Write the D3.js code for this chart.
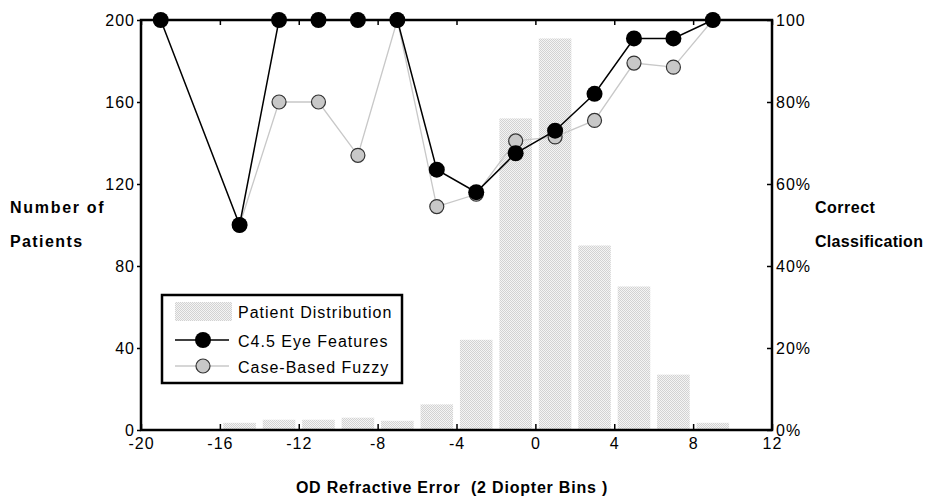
<!DOCTYPE html>
<html>
<head>
<meta charset="utf-8">
<script src="https://cdn.jsdelivr.net/npm/d3@7"></script>
<style>
  body { margin: 0; background: #fff; }
  svg text { font-family: "Liberation Sans", Arial, sans-serif; }
</style>
</head>
<body>
<svg id="chart" width="926" height="498"></svg>
<script>
// bins (centre of each 2 diopter bin) and patient counts
var binCentres = [-15, -13, -11, -9, -7, -5, -3, -1, 1, 3, 5, 7, 9];
var patientCounts = [3.5, 5, 5, 6, 4.5, 12.5, 44, 152, 191, 90, 70, 27, 3.5];

// C4.5 eye features, % correct
var c45X = [-19, -15, -13, -11, -9, -7, -5, -3, -1, 1, 3, 5, 7, 9];
var c45Pct = [100, 50, 100, 100, 100, 100, 63.5, 58, 67.5, 73, 82, 95.5, 95.5, 100];

// case-based fuzzy, % correct
var fuzzyX = [-15, -13, -11, -9, -7, -5, -3, -1, 1, 3, 5, 7, 9];
var fuzzyPct = [50, 80, 80, 67, 100, 54.5, 57.5, 70.5, 71.5, 75.5, 89.5, 88.5, 100];

var xTicks = [-20, -16, -12, -8, -4, 0, 4, 8, 12];
var leftTicks = [0, 40, 80, 120, 160, 200];
var rightTicks = [0, 20, 40, 60, 80, 100];

var svg = d3.select("#chart");
var L = 141, R = 772, T = 20, B = 430;

var x = d3.scaleLinear().domain([-20, 12]).range([L, R]);
var yN = d3.scaleLinear().domain([0, 200]).range([B, T]);
var yP = d3.scaleLinear().domain([0, 100]).range([B, T]);

// checkered fill for the bars
var defs = svg.append("defs");
var pat = defs.append("pattern")
    .attr("id", "dots")
    .attr("width", 2).attr("height", 2)
    .attr("patternUnits", "userSpaceOnUse");
pat.append("rect").attr("width", 2).attr("height", 2).attr("fill", "#f4f4f4");
pat.append("rect").attr("width", 1).attr("height", 1).attr("fill", "#d2d2d2");
pat.append("rect").attr("x", 1).attr("y", 1).attr("width", 1).attr("height", 1).attr("fill", "#d2d2d2");

// bars
var barW = x(1.65) - x(0);
svg.append("g").selectAll("rect")
    .data(binCentres)
    .enter().append("rect")
    .attr("x", function(d) { return x(d) - barW / 2; })
    .attr("y", function(d, i) { return yN(patientCounts[i]); })
    .attr("width", barW)
    .attr("height", function(d, i) { return B - yN(patientCounts[i]); })
    .attr("fill", "url(#dots)");

// axes
var fs = 16;
var tickStyle = function(g) {
    g.select(".domain").remove();
    g.selectAll("line").attr("stroke", "#000").attr("stroke-width", 1.5);
    g.selectAll("text")
        .style("font-size", fs + "px")
        .style("letter-spacing", "1px")
        .attr("fill", "#000");
};

svg.append("g")
    .attr("transform", "translate(0," + B + ")")
    .call(d3.axisTop(x).tickValues(xTicks).tickSize(6).tickFormat(""))
    .call(tickStyle);
svg.append("g")
    .attr("transform", "translate(0," + B + ")")
    .call(d3.axisBottom(x).tickValues(xTicks).tickSize(0).tickPadding(8)
        .tickFormat(function(d) { return String(d); }))
    .call(tickStyle);
svg.append("g")
    .attr("transform", "translate(0," + T + ")")
    .call(d3.axisBottom(x).tickValues(xTicks).tickSize(5).tickFormat(""))
    .call(tickStyle);

svg.append("g")
    .attr("transform", "translate(" + L + ",0)")
    .call(d3.axisLeft(yN).tickValues(leftTicks).tickSize(4).tickPadding(2))
    .call(tickStyle);

svg.append("g")
    .attr("transform", "translate(" + R + ",0)")
    .call(d3.axisLeft(yP).tickValues(rightTicks).tickSize(5).tickFormat(""))
    .call(tickStyle);
svg.append("g")
    .attr("transform", "translate(" + R + ",0)")
    .call(d3.axisRight(yP).tickValues(rightTicks).tickSize(0).tickPadding(4)
        .tickFormat(function(d) { return d === 100 ? "100" : d + "%"; }))
    .call(tickStyle);

// frame
svg.append("rect")
    .attr("x", L).attr("y", T)
    .attr("width", R - L).attr("height", B - T)
    .attr("fill", "none").attr("stroke", "#000").attr("stroke-width", 2.5);

// lines
var line = d3.line();
var fuzzyPts = fuzzyX.map(function(d, i) { return [x(d), yP(fuzzyPct[i])]; });
var c45Pts = c45X.map(function(d, i) { return [x(d), yP(c45Pct[i])]; });

svg.append("path").attr("d", line(fuzzyPts))
    .attr("fill", "none").attr("stroke", "#c8c8c8").attr("stroke-width", 1.3);
svg.append("g").selectAll("circle").data(fuzzyPts).enter().append("circle")
    .attr("cx", function(d) { return d[0]; }).attr("cy", function(d) { return d[1]; })
    .attr("r", 7).attr("fill", "#c8c8c8").attr("stroke", "#333").attr("stroke-width", 1.2);

svg.append("path").attr("d", line(c45Pts))
    .attr("fill", "none").attr("stroke", "#000").attr("stroke-width", 1.5);
svg.append("g").selectAll("circle").data(c45Pts).enter().append("circle")
    .attr("cx", function(d) { return d[0]; }).attr("cy", function(d) { return d[1]; })
    .attr("r", 8).attr("fill", "#000");

// legend
var lg = svg.append("g");
lg.append("rect").attr("x", 162).attr("y", 295).attr("width", 240).attr("height", 88)
    .attr("fill", "#fff").attr("stroke", "#000").attr("stroke-width", 2.5);
lg.append("rect").attr("x", 175).attr("y", 302).attr("width", 57).attr("height", 19)
    .attr("fill", "url(#dots)");
lg.append("line").attr("x1", 175).attr("x2", 229).attr("y1", 340).attr("y2", 340)
    .attr("stroke", "#000").attr("stroke-width", 1.5);
lg.append("circle").attr("cx", 203).attr("cy", 340).attr("r", 8).attr("fill", "#000");
lg.append("line").attr("x1", 175).attr("x2", 229).attr("y1", 366).attr("y2", 366)
    .attr("stroke", "#c8c8c8").attr("stroke-width", 1.3);
lg.append("circle").attr("cx", 203).attr("cy", 366).attr("r", 7)
    .attr("fill", "#c8c8c8").attr("stroke", "#333").attr("stroke-width", 1.2);
var legendNames = ["Patient Distribution", "C4.5 Eye Features", "Case-Based Fuzzy"];
var legendY = [312, 341, 367];
lg.selectAll("text.lab").data(legendNames).enter().append("text")
    .attr("x", 238).attr("y", function(d, i) { return legendY[i]; })
    .attr("dy", "0.35em")
    .style("font-size", fs + "px").style("letter-spacing", "1px")
    .text(function(d) { return d; });

// axis titles
var bold = function(t, xx, yy, anchor, ls) {
    svg.append("text").attr("x", xx).attr("y", yy)
        .attr("text-anchor", anchor || "start")
        .style("font-size", "16px").style("font-weight", "bold")
        .style("letter-spacing", ls + "px").style("white-space", "pre")
        .text(t);
};
bold("Number of", 10, 213, "start", 1.7);
bold("Patients", 10, 247, "start", 1.4);
bold("Correct", 815, 213, "start", 0.5);
bold("Classification", 815, 247, "start", 0.3);
bold("OD Refractive Error  (2 Diopter Bins )", 452, 493, "middle", 0.8);
</script>
</body>
</html>
